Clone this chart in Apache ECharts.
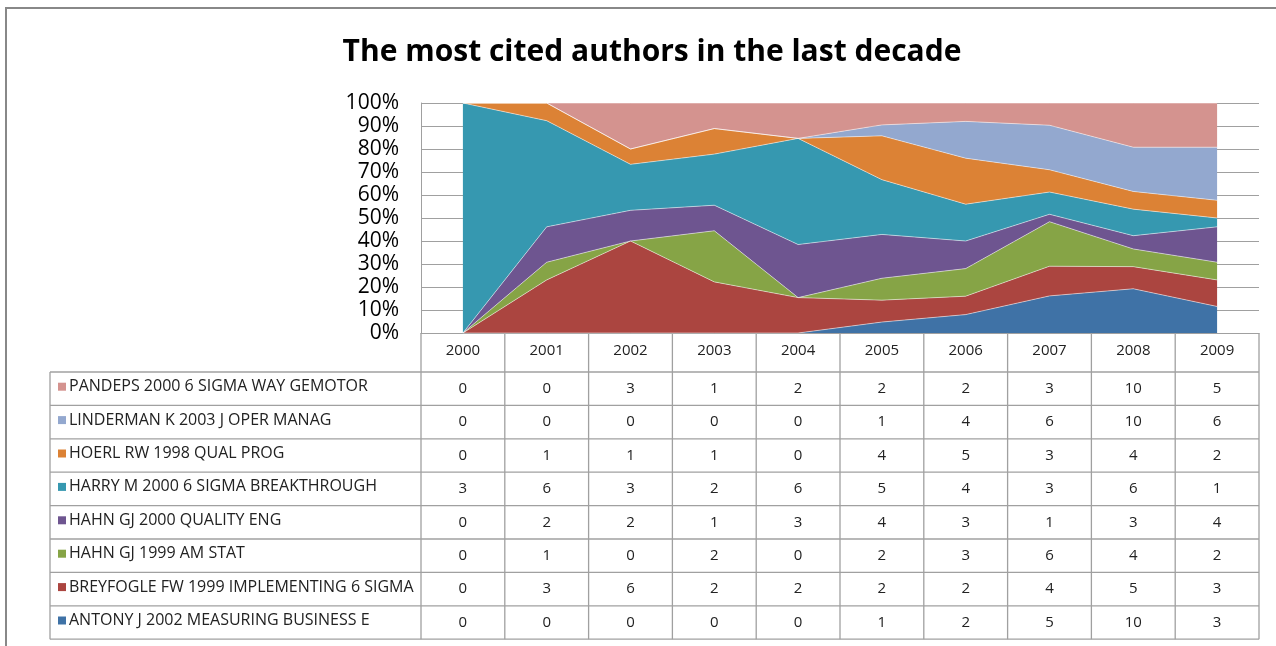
<!DOCTYPE html>
<html><head><meta charset="utf-8">
<script src="https://cdn.jsdelivr.net/npm/echarts@6/dist/echarts.min.js"></script>
<style>html,body{margin:0;padding:0;background:#fff}#c{width:1276px;height:646px}</style>
</head><body><div id="c"></div>
<script>
// ---- data ----
const chartTitle = 'The most cited authors in the last decade';
const years = ['2000','2001','2002','2003','2004','2005','2006','2007','2008','2009'];
// series listed from bottom of stack to top
const names = [
  'ANTONY J 2002 MEASURING BUSINESS E',
  'BREYFOGLE FW 1999 IMPLEMENTING 6 SIGMA',
  'HAHN GJ 1999 AM STAT',
  'HAHN GJ 2000 QUALITY ENG',
  'HARRY M 2000 6 SIGMA BREAKTHROUGH',
  'HOERL RW 1998 QUAL PROG',
  'LINDERMAN K 2003 J OPER MANAG',
  'PANDEPS 2000 6 SIGMA WAY GEMOTOR'
];
const antony    = [0,0,0,0,0,1,2,5,10,3];
const breyfogle = [0,3,6,2,2,2,2,4,5,3];
const hahn1999  = [0,1,0,2,0,2,3,6,4,2];
const hahn2000  = [0,2,2,1,3,4,3,1,3,4];
const harry     = [3,6,3,2,6,5,4,3,6,1];
const hoerl     = [0,1,1,1,0,4,5,3,4,2];
const linderman = [0,0,0,0,0,1,4,6,10,6];
const pande     = [0,0,3,1,2,2,2,3,10,5];
const colors = ['#3F72A6','#AB4540','#86A446','#6E5590','#3698B0','#DC8235','#93A8CF','#D4938F'];

const values = [antony, breyfogle, hahn1999, hahn2000, harry, hoerl, linderman, pande];
const totals = years.map((_, i) => values.reduce((s, a) => s + a[i], 0));

const FONT = 'Open Sans';
const GRID = '#a0a0a0';

const chart = echarts.init(document.getElementById('c'), null, {renderer: 'canvas'});
chart.setOption({
  animation: false,
  backgroundColor: '#fff',
  title: {
    text: chartTitle, left: 647, top: 32, textAlign: 'center',
    textStyle: {fontFamily: FONT, fontWeight: 'bold', fontSize: 30, color: '#000'}
  },
  grid: {left: 421, right: 17, top: 103, bottom: 313},
  xAxis: {
    type: 'category', data: years, boundaryGap: true,
    axisLine: {show: true, lineStyle: {color: GRID, width: 1}},
    axisTick: {show: false},
    axisLabel: {margin: 10, fontFamily: FONT, fontSize: 15, color: '#222'}
  },
  yAxis: {
    type: 'value', min: 0, max: 100, interval: 10,
    axisLine: {show: true, lineStyle: {color: GRID, width: 1}},
    axisTick: {show: false},
    axisLabel: {formatter: '{value}%', margin: 22, fontFamily: FONT, fontSize: 21, color: '#000'},
    splitLine: {show: true, lineStyle: {color: GRID, width: 1}}
  },
  series: names.map((n, k) => ({
    name: n, type: 'line', stack: 'pct', symbol: 'none', showSymbol: false,
    data: values[k].map((v, i) => v / totals[i] * 100),
    areaStyle: {color: colors[k], opacity: 1},
    lineStyle: {color: 'rgba(255,255,255,0.5)', width: 1},
    itemStyle: {color: colors[k]},
    emphasis: {disabled: true}, silent: true
  }))
});

// ---- data table under the plot ----
const cx0 = chart.convertToPixel({xAxisIndex: 0}, 0);
const cx1 = chart.convertToPixel({xAxisIndex: 0}, 1);
const band = cx1 - cx0;
const left = cx0 - band / 2;
const right = left + band * years.length;
const yTop = chart.convertToPixel({yAxisIndex: 0}, 0);
const headerH = 39, rowH = 33.4, tableLeft = 50;
const headBottom = yTop + headerH;
const rows = names.map((n, k) => k).reverse();
const bottom = headBottom + rowH * rows.length;
const els = [];
const line = (x1, y1, x2, y2) => els.push({type: 'line', silent: true,
  shape: {x1, y1, x2, y2}, style: {stroke: GRID, lineWidth: 1.3}});
for (let i = 0; i <= years.length; i++) {
  const x = left + band * i;
  line(x, yTop, x, bottom);
}
line(tableLeft, headBottom, tableLeft, bottom);
for (let r = 0; r <= rows.length; r++) {
  const y = headBottom + rowH * r;
  line(tableLeft, y, right, y);
}
rows.forEach((k, r) => {
  const yc = headBottom + rowH * r + rowH / 2;
  els.push({type: 'rect', silent: true, shape: {x: 58, y: yc - 6, width: 8, height: 8},
    style: {fill: colors[k]}});
  els.push({type: 'text', silent: true, x: 69, y: yc - 2,
    style: {text: names[k], fontFamily: FONT, fontSize: 16, fill: '#222',
      verticalAlign: 'middle', align: 'left'}});
  values[k].forEach((v, i) => {
    els.push({type: 'text', silent: true, x: chart.convertToPixel({xAxisIndex: 0}, i), y: yc,
      style: {text: String(v), fontFamily: FONT, fontSize: 15, fill: '#222',
        align: 'center', verticalAlign: 'middle'}});
  });
});
// outer frame
els.push({type: 'rect', silent: true, shape: {x: 6, y: 8, width: 1300, height: 700},
  style: {fill: 'none', stroke: '#888', lineWidth: 2}});
chart.setOption({graphic: els});
</script></body></html>
